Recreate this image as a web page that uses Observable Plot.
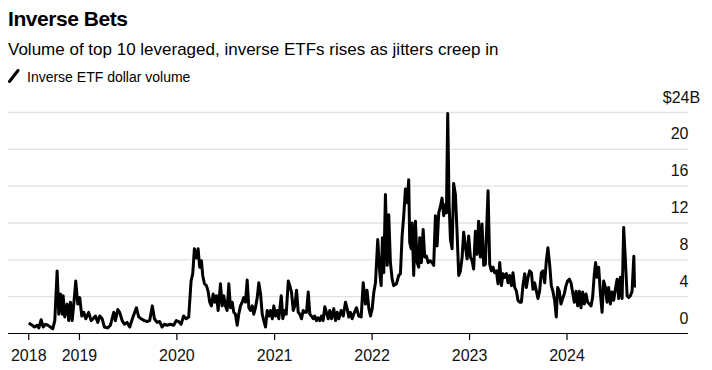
<!DOCTYPE html>
<html>
<head>
<meta charset="utf-8">
<script src="https://cdn.jsdelivr.net/npm/d3@7"></script>
<script src="https://cdn.jsdelivr.net/npm/@observablehq/plot@0.6"></script>
<style>
  html, body { margin: 0; padding: 0; background: #fff; }
  body { width: 712px; height: 370px; overflow: hidden; font-family: "Liberation Sans", Arial, Helvetica, sans-serif; color: #000; }
  #head { position: relative; height: 90px; }
  #title { position: absolute; left: 8px; top: 8px; font-size: 21px; line-height: 21px; font-weight: bold; letter-spacing: -0.45px; white-space: nowrap; }
  #subtitle { position: absolute; left: 8px; top: 40.6px; font-size: 17px; line-height: 17px; white-space: nowrap; }
  #legend { position: absolute; left: 8px; top: 69.5px; font-size: 14px; line-height: 14px; white-space: nowrap; }
  #legend svg { position: absolute; left: 0; top: -1px; }
  #legend span { position: absolute; left: 19px; top: 0; }
  #chart svg { display: block; }
</style>
</head>
<body>
<div id="head">
  <div id="title">Inverse Bets</div>
  <div id="subtitle">Volume of top 10 leveraged, inverse ETFs rises as jitters creep in</div>
  <div id="legend"><svg width="14" height="14"><line x1="1.5" y1="12.5" x2="10" y2="1.5" stroke="#000" stroke-width="3" stroke-linecap="round"/></svg><span>Inverse ETF dollar volume</span></div>
</div>
<div id="chart"></div>
<script>
// Dates as decimal years (weekly-ish readings), values in $ billions
const years2018_19 = [2018.480,2018.515,2018.539,2018.566,2018.583,2018.607,2018.628,2018.651,2018.675,2018.703,2018.726,2018.747,2018.771,2018.788,2018.805,2018.823,2018.833,2018.849,2018.874,2018.890,2018.908,2018.925,2018.942,2018.962,2018.983,2019.003,2019.024,2019.044,2019.065,2019.095,2019.120,2019.140,2019.164,2019.188,2019.208,2019.233,2019.256,2019.290,2019.318,2019.352,2019.369,2019.393,2019.413,2019.438,2019.461,2019.489,2019.516,2019.543,2019.584,2019.608,2019.633,2019.666,2019.694,2019.721,2019.748,2019.769,2019.797,2019.823,2019.848,2019.871,2019.899,2019.933,2019.967,2019.994];
const values2018_19 = [1.15,0.9,0.7,0.9,0.6,1.5,0.7,1.0,0.9,0.7,0.5,1.4,6.8,2.1,4.3,2.1,4.1,1.8,3.2,1.4,3.4,1.4,3.2,5.7,3.2,3.9,1.9,2.3,1.6,2.3,1.4,1.6,1.9,1.2,1.9,1.6,0.7,0.6,0.9,2.3,1.4,2.6,2.3,1.4,1.0,1.2,0.7,1.6,2.8,1.8,1.6,1.4,1.3,1.4,3.0,1.6,1.2,1.3,0.7,1.0,0.9,1.0,0.9,1.4];

const years2020 = [2020.018,2020.043,2020.069,2020.094,2020.121,2020.145,2020.162,2020.179,2020.199,2020.217,2020.233,2020.251,2020.264,2020.282,2020.302,2020.319,2020.336,2020.353,2020.371,2020.387,2020.405,2020.422,2020.446,2020.463,2020.479,2020.497,2020.514,2020.531,2020.548,2020.566,2020.582,2020.599,2020.617,2020.633,2020.651,2020.668,2020.684,2020.702,2020.719,2020.736,2020.753,2020.771,2020.787,2020.804,2020.822,2020.838,2020.856,2020.873,2020.889,2020.907,2020.924,2020.941,2020.958,2020.976,2020.992];
const values2020 = [1.3,1.0,1.9,1.6,1.8,5.7,6.5,9.2,8.2,9.2,7.2,7.9,6.3,5.4,5.2,4.6,3.4,3.0,4.3,3.4,4.1,2.5,5.4,3.0,4.1,3.0,2.5,5.4,2.8,3.4,2.3,2.1,0.9,2.1,3.0,3.4,3.9,3.4,5.8,2.8,2.5,3.0,2.1,2.8,3.9,5.5,4.3,2.1,1.4,0.7,2.5,1.9,2.5,1.6,3.0];

const years2021 = [2021.009,2021.027,2021.043,2021.068,2021.084,2021.102,2021.119,2021.140,2021.156,2021.173,2021.191,2021.207,2021.225,2021.242,2021.259,2021.276,2021.293,2021.310,2021.327,2021.345,2021.361,2021.378,2021.396,2021.412,2021.430,2021.447,2021.464,2021.481,2021.498,2021.515,2021.532,2021.550,2021.566,2021.584,2021.607,2021.625,2021.642,2021.658,2021.683,2021.704,2021.727,2021.744,2021.761,2021.778,2021.796,2021.819,2021.840,2021.863,2021.888,2021.909,2021.932,2021.948,2021.967,2021.984];
const values2021 = [1.9,2.5,1.6,4.1,1.6,2.5,2.1,5.7,5.2,4.5,2.5,3.0,4.7,2.3,2.1,1.6,2.5,2.3,2.3,4.5,2.1,1.9,1.6,1.9,1.4,1.7,1.4,1.9,1.4,2.9,2.3,1.6,2.5,1.6,2.7,1.4,2.3,1.6,2.5,1.9,3.4,2.7,1.8,2.3,1.6,2.3,2.8,1.9,1.8,5.5,3.2,4.7,2.7,1.9];

const years2022 = [2022.001,2022.018,2022.035,2022.058,2022.079,2022.093,2022.106,2022.120,2022.137,2022.155,2022.171,2022.188,2022.206,2022.222,2022.250,2022.273,2022.291,2022.308,2022.325,2022.342,2022.360,2022.376,2022.386,2022.401,2022.411,2022.427,2022.445,2022.462,2022.479,2022.489,2022.506,2022.524,2022.540,2022.558,2022.575,2022.598,2022.616,2022.632,2022.650,2022.667,2022.684,2022.701,2022.718,2022.735,2022.752,2022.763,2022.776,2022.790,2022.804,2022.821,2022.837,2022.855,2022.872,2022.889,2022.906,2022.924,2022.940,2022.957,2022.975,2022.991];
const values2022 = [2.7,4.5,5.5,10.2,6.6,5.2,10.4,6.6,15.1,7.4,12.9,7.7,5.9,5.2,5.4,6.3,6.5,10.6,12.8,15.7,14.2,16.7,9.9,9.2,12.0,6.3,12.2,7.7,7.2,10.4,7.7,11.3,8.3,8.4,7.7,7.9,7.7,7.4,12.8,9.5,13.1,13.8,14.7,12.8,14.0,13.1,23.9,14.2,10.2,9.2,16.3,15.1,11.0,6.3,6.8,8.3,11.0,9.5,8.1,10.6];

const years2023 = [2023.009,2023.026,2023.042,2023.060,2023.077,2023.093,2023.111,2023.128,2023.145,2023.162,2023.190,2023.207,2023.224,2023.241,2023.258,2023.275,2023.292,2023.310,2023.327,2023.344,2023.361,2023.379,2023.395,2023.412,2023.430,2023.446,2023.463,2023.481,2023.497,2023.515,2023.532,2023.548,2023.566,2023.583,2023.600,2023.617,2023.635,2023.651,2023.668,2023.686,2023.702,2023.719,2023.737,2023.753,2023.771,2023.788,2023.804,2023.822,2023.839,2023.855,2023.873,2023.890,2023.904,2023.921,2023.938,2023.955,2023.972,2023.990];
const values2023 = [8.3,7.9,7.0,11.1,8.6,12.2,8.3,11.9,7.4,7.5,15.5,7.5,6.8,7.2,6.6,6.8,5.4,7.7,5.2,6.5,6.1,6.5,5.5,6.3,5.2,6.6,5.0,4.6,3.6,3.4,3.4,5.2,6.5,5.0,6.1,6.8,6.6,4.8,5.5,4.6,3.8,4.6,6.6,6.8,5.5,7.9,9.3,7.5,5.2,4.6,3.6,1.8,5.0,4.6,3.2,3.8,4.3,5.2];

const years2024 = [2024.006,2024.024,2024.041,2024.057,2024.075,2024.092,2024.109,2024.126,2024.143,2024.160,2024.177,2024.195,2024.211,2024.229,2024.246,2024.262,2024.280,2024.293,2024.308,2024.324,2024.341,2024.359,2024.375,2024.393,2024.410,2024.426,2024.444,2024.461,2024.478,2024.495,2024.513,2024.529,2024.546,2024.564,2024.580,2024.598,2024.615,2024.632,2024.649,2024.666,2024.684,2024.691];
const values2024 = [5.7,5.9,5.5,4.5,3.4,4.6,3.0,4.6,2.8,4.5,3.2,4.3,3.4,3.2,3.0,3.9,6.5,7.7,6.1,7.2,4.5,2.3,5.7,5.0,3.4,5.0,3.2,4.5,3.6,4.8,5.9,3.8,6.1,3.8,11.5,7.9,4.1,3.9,4.1,4.6,8.4,5.0];

const yTicks = [0, 4, 8, 12, 16, 20, 24];
const xTickYears = [2018.480, 2019, 2020, 2021, 2022, 2023, 2024];
const xDomainYears = [2018.272, 2025.244];

function toDate(t) {
  const y = Math.floor(t);
  const a = Date.UTC(y, 0, 1), b = Date.UTC(y + 1, 0, 1);
  return new Date(a + (t - y) * (b - a));
}

const allYears = [].concat(years2018_19, years2020, years2021, years2022, years2023, years2024);
const allValues = [].concat(values2018_19, values2020, values2021, values2022, values2023, values2024);
const data = allYears.map((t, i) => ({date: toDate(t), value: allValues[i]}));

const xDomain = xDomainYears.map(toDate);
const xTicks = xTickYears.map(toDate);
const font = "'Liberation Sans', Arial, Helvetica, sans-serif";

const chart = Plot.plot({
  width: 712,
  height: 280,
  marginLeft: 8,
  marginRight: 24,
  marginTop: 22,
  marginBottom: 37,
  style: {fontFamily: font, background: "#fff", color: "#000"},
  x: {type: "utc", domain: xDomain},
  y: {domain: [0, 24], axis: null},
  marks: [
    Plot.ruleY(yTicks.filter(d => d > 0), {stroke: "#e2e2e2", strokeWidth: 1.3}),
    Plot.ruleY([0], {stroke: "#000", strokeWidth: 1.2}),
    Plot.axisX({ticks: xTicks, tickFormat: d3.utcFormat("%Y"), tickSize: 7, tickPadding: 9, fontSize: 16, label: null, stroke: "#000", strokeWidth: 1.2, fill: "#111"}),
    Plot.text(yTicks.filter(d => d < 24), {x: () => xDomain[1], y: d => d, text: d => String(d), textAnchor: "end", dy: -15, fontSize: 16, fill: "#111"}),
    Plot.text([24], {x: () => xDomain[1], y: d => d, text: d => "$" + d, textAnchor: "end", dx: 1, dy: -15, fontSize: 16, fill: "#111"}),
    Plot.text([24], {x: () => xDomain[1], y: d => d, text: () => "B", textAnchor: "start", dx: 1, dy: -15, fontSize: 16, fill: "#111"}),
    Plot.line(data, {x: "date", y: "value", stroke: "#000", strokeWidth: 3, strokeLinejoin: "round", strokeLinecap: "butt"})
  ]
});
document.getElementById("chart").appendChild(chart);
</script>
</body>
</html>
